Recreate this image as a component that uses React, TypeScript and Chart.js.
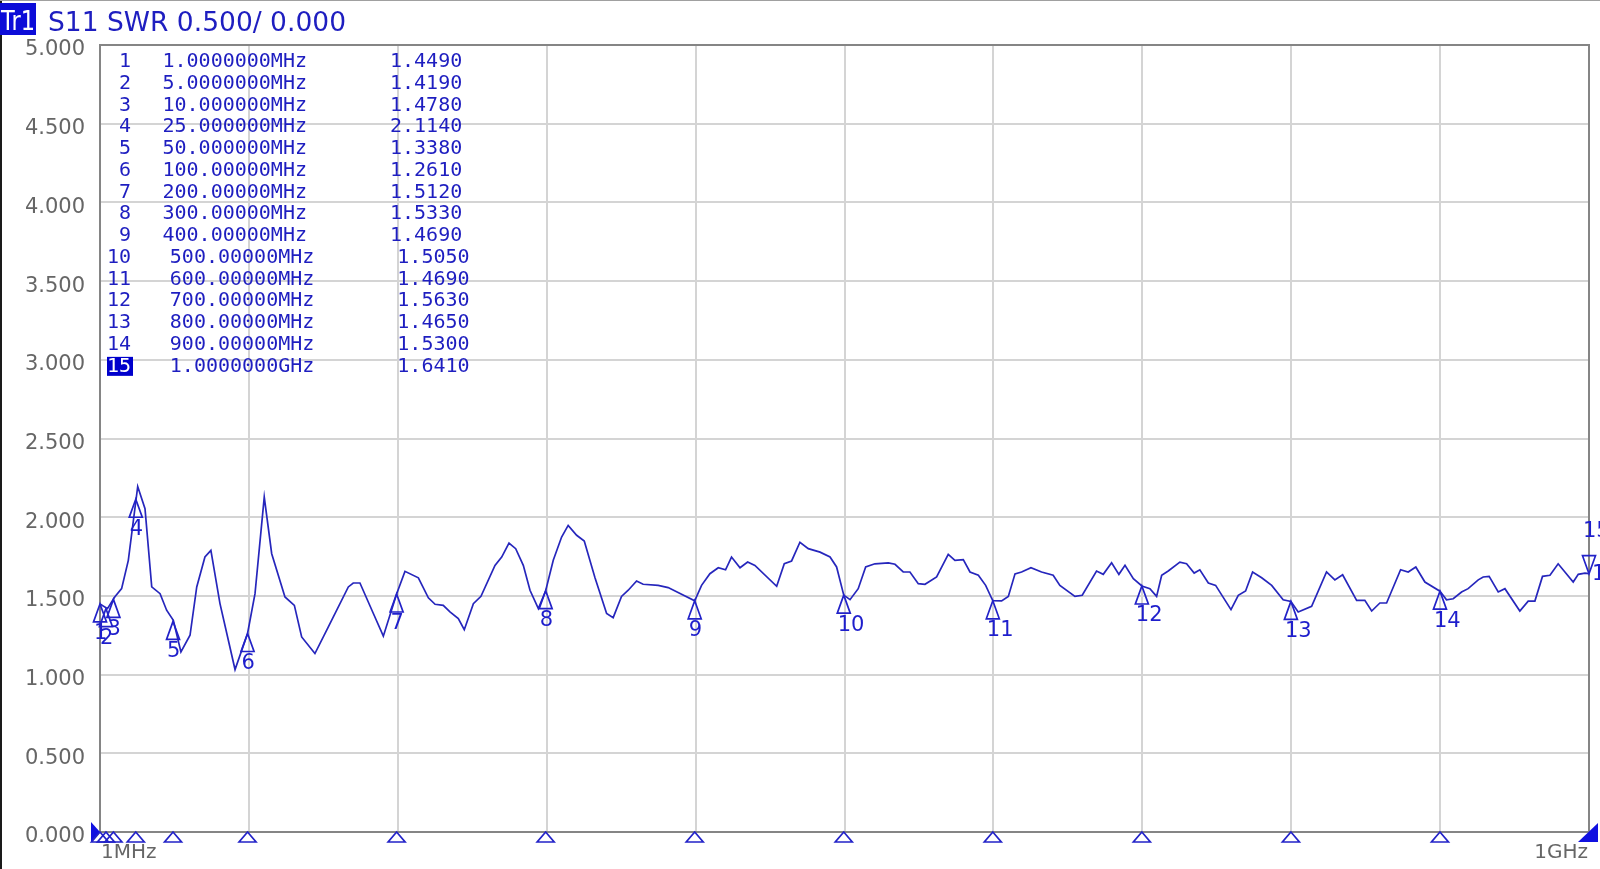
import React, { useEffect, useRef } from "react";
import { Chart, registerables } from "chart.js";

Chart.register(...registerables);

// ---- Sweep settings ----
const xStartMHz = 1;
const xStopMHz = 1000;
const xDivisions = 10;
const yMin = 0;
const yMax = 5;
const yStep = 0.5;

// ---- Text ----
const traceTag = "Tr1";
const traceTitle = "S11 SWR 0.500/ 0.000";
const startLabel = "1MHz";
const stopLabel = "1GHz";

// ---- Trace (frequency in MHz, SWR) ----
const traceFreqMHz = [
  1, 6, 11, 15.5, 20.0, 26.3, 31.2, 35.7, 41.3, 45.7, 50.2, 55.3, 61.4, 65.9, 71.4, 75.4, 81.5, 91.6, 100,
  105, 111.2, 116.2, 125.1, 131.4, 136.3, 145.2, 154.2, 167.6, 170.9, 175.4, 184.4, 191.1, 200,
  205.6, 214.6, 221.3, 225.8, 231.3, 235.8, 241.4, 245.4, 251.5, 256.6, 266, 270.5, 275.4, 279.9, 285, 289.5, 295.1, 300,
  305.1, 310.7, 315.1, 320.8, 325.9, 333.1, 340.9, 345.3, 350.9, 355.4, 361, 365.4, 375.5, 382.2, 391.2, 400,
  404.6, 410.2, 415.8, 420.7, 424.7, 430.4, 435.5, 440.4, 455, 460.1, 465, 470.6, 476.2, 484.1, 490.8, 495.2, 500,
  504.2, 509.7, 514.7, 520.9, 529.9, 534.4, 539.9, 544.4, 550, 554.5, 562.3, 570.1, 574.6, 580.2, 584.7, 590.3, 595.2, 600,
  605.9, 610.4, 614.9, 619.3, 625.6, 632.7, 640.5, 645, 655.1, 660, 669.6, 674.1, 679.7, 684.6, 688.7, 694.3, 700,
  705.4, 709.9, 713.3, 717.7, 725.5, 730, 735.1, 738.9, 744.6, 749.5, 759.8, 764.7, 769.6, 774.3, 780.4, 787.1, 794.8, 800,
  804.9, 813.9, 823.9, 829.5, 834.7, 844.1, 849.6, 854.2, 859.7, 864.2, 873.6, 878.7, 883.8, 889.9, 900,
  904.4, 908.9, 914.5, 918.9, 925.7, 929, 933, 939.1, 943.6, 953.6, 959.2, 963.7, 968.8, 973.8, 979.3, 989.4, 992.8, 997.3, 1000,
];
const traceSWR = [
  1.449, 1.419, 1.495, 1.546, 1.726, 2.195, 2.054, 1.557, 1.514, 1.409, 1.345, 1.144, 1.25, 1.557, 1.747, 1.789, 1.451, 1.032, 1.261,
  1.514, 2.128, 1.768, 1.493, 1.44, 1.239, 1.134, 1.303, 1.557, 1.582, 1.582, 1.388, 1.244, 1.512,
  1.656, 1.615, 1.488, 1.447, 1.44, 1.398, 1.356, 1.285, 1.451, 1.497, 1.694, 1.747, 1.836, 1.8, 1.694, 1.536, 1.419, 1.533,
  1.726, 1.874, 1.948, 1.885, 1.849, 1.616, 1.388, 1.362, 1.497, 1.536, 1.595, 1.574, 1.567, 1.553, 1.51, 1.469,
  1.567, 1.641, 1.679, 1.666, 1.747, 1.679, 1.715, 1.694, 1.561, 1.705, 1.722, 1.841, 1.8, 1.778, 1.747, 1.684, 1.505,
  1.476, 1.546, 1.684, 1.704, 1.71, 1.701, 1.652, 1.652, 1.578, 1.574, 1.62, 1.764, 1.726, 1.73, 1.652, 1.631, 1.567, 1.469,
  1.468, 1.497, 1.64, 1.652, 1.679, 1.652, 1.631, 1.567, 1.497, 1.504, 1.658, 1.637, 1.71, 1.637, 1.694, 1.61, 1.563,
  1.546, 1.497, 1.631, 1.658, 1.715, 1.704, 1.645, 1.666, 1.582, 1.567, 1.413, 1.504, 1.531, 1.652, 1.615, 1.567, 1.475, 1.465,
  1.398, 1.434, 1.652, 1.602, 1.634, 1.472, 1.472, 1.404, 1.455, 1.455, 1.666, 1.652, 1.684, 1.588, 1.53,
  1.475, 1.482, 1.525, 1.546, 1.602, 1.62, 1.624, 1.525, 1.546, 1.404, 1.467, 1.467, 1.624, 1.631, 1.704, 1.588, 1.637, 1.645, 1.641,
];

// ---- Markers ----
const markerIds = [1, 2, 3, 4, 5, 6, 7, 8, 9, 10, 11, 12, 13, 14, 15];
const markerFreqMHz = [1, 5, 10, 25, 50, 100, 200, 300, 400, 500, 600, 700, 800, 900, 1000];
const markerFreqText = [
  "1.0000000MHz", "5.0000000MHz", "10.000000MHz", "25.000000MHz", "50.000000MHz",
  "100.00000MHz", "200.00000MHz", "300.00000MHz", "400.00000MHz", "500.00000MHz",
  "600.00000MHz", "700.00000MHz", "800.00000MHz", "900.00000MHz", "1.0000000GHz",
];
const markerSWR = [1.449, 1.419, 1.478, 2.114, 1.338, 1.261, 1.512, 1.533, 1.469, 1.505, 1.469, 1.563, 1.465, 1.53, 1.641];
const activeMarker = 15;

const BLUE_TEXT = "#1e1ec0";
const TRACE = "#2626bc";
const GRAY_TEXT = "#666666";

function fitText(ctx: CanvasRenderingContext2D, text: string, x: number, y: number, width: number) {
  const w = ctx.measureText(text).width;
  ctx.save();
  ctx.translate(x, y);
  ctx.scale(width / w, 1);
  ctx.fillText(text, 0, 0);
  ctx.restore();
}

export default function App() {
  const ref = useRef<HTMLCanvasElement | null>(null);

  useEffect(() => {
    if (!ref.current) return;
    const overlay = {
      id: "vnaOverlay",
      beforeDatasetsDraw(chart: any) {
        const ctx = chart.ctx as CanvasRenderingContext2D;
        const a = chart.chartArea;
        ctx.save();
        ctx.strokeStyle = "#858585";
        ctx.lineWidth = 2;
        ctx.strokeRect(a.left, a.top, a.right - a.left, a.bottom - a.top);
        ctx.restore();
      },
      afterDraw(chart: any) {
        const ctx = chart.ctx as CanvasRenderingContext2D;
        const xs = chart.scales.x;
        const ys = chart.scales.y;
        const a = chart.chartArea;
        ctx.save();

        // screen frame edges
        ctx.fillStyle = "#1a1a1a";
        ctx.fillRect(0, 0, 2, 869);
        ctx.fillStyle = "#a0a0a0";
        ctx.fillRect(0, 0, 1600, 1);

        // title
        ctx.fillStyle = "#0c0cd8";
        ctx.fillRect(0, 3, 36, 32);
        ctx.fillStyle = "#ffffff";
        ctx.font = '26px "DejaVu Sans"';
        ctx.textBaseline = "alphabetic";
        ctx.textAlign = "left";
        fitText(ctx, traceTag, 1, 30, 34);
        ctx.fillStyle = BLUE_TEXT;
        ctx.font = '26px "DejaVu Sans"';
        fitText(ctx, traceTitle, 48, 31, 298);

        // stimulus labels
        ctx.font = '20px "DejaVu Sans"';
        ctx.fillStyle = GRAY_TEXT;
        ctx.textBaseline = "middle";
        ctx.textAlign = "left";
        ctx.fillText(startLabel, xs.getPixelForValue(xStartMHz) + 1, 853);
        ctx.textAlign = "right";
        ctx.fillText(stopLabel, xs.getPixelForValue(xStopMHz) - 1, 853);

        // marker table
        ctx.font = '20px "DejaVu Sans Mono"';
        ctx.textBaseline = "middle";
        markerIds.forEach((id, i) => {
          const y = a.top + 17 + 21.74 * i;
          const shift = id >= 10 ? 7.3 : 0;
          if (id === activeMarker) {
            ctx.fillStyle = "#0000cc";
            ctx.fillRect(a.left + 7, y - 9.5, 26, 19);
            ctx.fillStyle = "#ffffff";
          } else {
            ctx.fillStyle = BLUE_TEXT;
          }
          ctx.textAlign = "right";
          ctx.fillText(String(id), a.left + 31, y);
          ctx.fillStyle = BLUE_TEXT;
          ctx.textAlign = "left";
          ctx.fillText(markerFreqText[i], a.left + 62.5 + shift, y);
          ctx.fillText(markerSWR[i].toFixed(4), a.left + 290 + shift, y);
        });

        // reference level indicator (left)
        const y0 = ys.getPixelForValue(yMin);
        ctx.fillStyle = "#1010e0";
        ctx.beginPath();
        ctx.moveTo(a.left - 9, y0 - 10);
        ctx.lineTo(a.left, y0);
        ctx.lineTo(a.left - 9, y0 + 10);
        ctx.closePath();
        ctx.fill();

        // markers on trace and on stimulus axis
        ctx.strokeStyle = "#2222c8";
        ctx.lineWidth = 1.7;
        ctx.font = '21px "DejaVu Sans"';
        ctx.textAlign = "left";
        ctx.textBaseline = "middle";
        markerIds.forEach((id, i) => {
          const px = xs.getPixelForValue(markerFreqMHz[i]);
          const py = ys.getPixelForValue(markerSWR[i]);
          ctx.fillStyle = "#1e1ecc";
          if (id === activeMarker) {
            ctx.beginPath();
            ctx.moveTo(px, py);
            ctx.lineTo(px - 6.5, py - 18);
            ctx.lineTo(px + 6.5, py - 18);
            ctx.closePath();
            ctx.stroke();
            ctx.fillText(String(id), px - 6, py - 42);
            ctx.fillText(String(id), px + 3, py + 1);
            // filled stimulus indicator
            ctx.fillStyle = "#1010e0";
            ctx.beginPath();
            ctx.moveTo(px - 11, y0 + 10);
            ctx.lineTo(px + 9, y0 - 9);
            ctx.lineTo(px + 9, y0 + 10);
            ctx.closePath();
            ctx.fill();
          } else {
            ctx.beginPath();
            ctx.moveTo(px, py);
            ctx.lineTo(px - 6.5, py + 18);
            ctx.lineTo(px + 6.5, py + 18);
            ctx.closePath();
            ctx.stroke();
            ctx.fillText(String(id), px - 6, py + 30);
            ctx.beginPath();
            ctx.moveTo(px, y0);
            ctx.lineTo(px - 8.5, y0 + 10);
            ctx.lineTo(px + 8.5, y0 + 10);
            ctx.closePath();
            ctx.stroke();
          }
        });

        ctx.restore();
      },
    };

    const chart = new Chart(ref.current, {
      type: "line",
      data: {
        datasets: [
          {
            label: "S11 SWR",
            data: traceFreqMHz.map((f, i) => ({ x: f, y: traceSWR[i] })),
            borderColor: TRACE,
            borderWidth: 1.7,
            pointRadius: 0,
            tension: 0,
            fill: false,
          },
        ],
      },
      options: {
        responsive: false,
        animation: false,
        devicePixelRatio: 1,
        layout: { padding: { top: 45, right: 11, left: 0, bottom: 0 } },
        plugins: {
          legend: { display: false },
          tooltip: { enabled: false },
          title: { display: false },
        },
        scales: {
          x: {
            type: "linear",
            min: xStartMHz,
            max: xStopMHz,
            afterBuildTicks: (s: any) => {
              s.ticks = Array.from({ length: xDivisions + 1 }, (_, k) => ({
                value: xStartMHz + ((xStopMHz - xStartMHz) * k) / xDivisions,
              }));
            },
            afterFit: (s: any) => {
              s.height = 37;
            },
            ticks: { display: false },
            grid: { color: "#d4d4d4", lineWidth: 2, drawTicks: false },
            border: { display: false },
          },
          y: {
            type: "linear",
            min: yMin,
            max: yMax,
            afterFit: (s: any) => {
              s.width = 100;
            },
            ticks: {
              stepSize: yStep,
              padding: 15,
              labelOffset: 5,
              color: GRAY_TEXT,
              font: { family: '"DejaVu Sans"', size: 21 },
              callback: (v: any) => Number(v).toFixed(3),
            },
            grid: { color: "#d4d4d4", lineWidth: 2, drawTicks: false },
            border: { display: false },
          },
        },
      },
      plugins: [overlay],
    });
    return () => chart.destroy();
  }, []);

  return (
    <div style={{ position: "fixed", left: 0, top: 0, width: 1600, height: 869, background: "#ffffff" }}>
      <canvas ref={ref} width={1600} height={869} style={{ width: 1600, height: 869, display: "block" }} />
    </div>
  );
}
